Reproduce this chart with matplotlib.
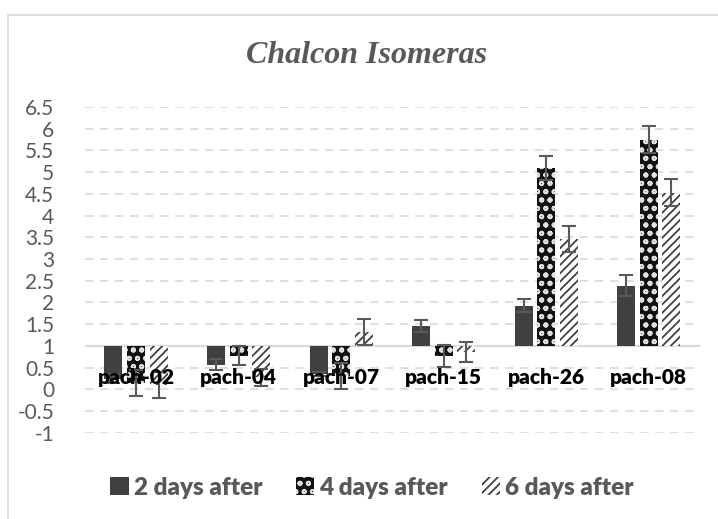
import matplotlib
matplotlib.use("Agg")
import matplotlib.pyplot as plt
from matplotlib.patches import Patch, Rectangle
from matplotlib.ticker import FuncFormatter
import numpy as np

# data (bars start at the axis crossing y = 1)
samples = ["pach-02", "pach-04", "pach-07", "pach-15", "pach-26", "pach-08"]
series = ["2 days after", "4 days after", "6 days after"]
day2 = [0.25, 0.57, 0.35, 1.45, 1.93, 2.39]
day4 = [0.15, 0.77, 0.30, 0.77, 5.10, 5.75]
day6 = [0.10, 0.28, 1.33, 0.85, 3.47, 4.53]
err2 = [0.10, 0.13, 0.05, 0.14, 0.16, 0.25]
err4 = [0.30, 0.22, 0.30, 0.25, 0.28, 0.30]
err6 = [0.30, 0.20, 0.30, 0.23, 0.30, 0.32]

GRAY = "#595959"
base = 1.0

plt.rcParams["hatch.linewidth"] = 1.3

fig = plt.figure(figsize=(7.18, 5.19), dpi=100)
ax = fig.add_axes([0.118, 0.166, 0.857, 0.628])

fig.patches.append(Rectangle((8 / 718, -0.02), 1.0, 1 - 15 / 519 + 0.02,
                             transform=fig.transFigure, fill=False,
                             edgecolor="#d9d9d9", linewidth=1.2, zorder=0))

x = np.arange(len(samples))
step = 0.22
width = 0.175

styles = [
    dict(facecolor="#404040", edgecolor="#404040", hatch=None),
    dict(facecolor="#111111", edgecolor="#e0e0e0", hatch="oo"),
    dict(facecolor="white", edgecolor="#404040", hatch="////"),
]
vals = [day2, day4, day6]
errs = [err2, err4, err6]

for i, (v, e, st) in enumerate(zip(vals, errs, styles)):
    v = np.array(v)
    xpos = x + (i - 1) * step
    ax.bar(xpos, v - base, bottom=base, width=width, linewidth=0,
           zorder=2, **st)
    ax.errorbar(xpos, v, yerr=e, fmt="none", ecolor=GRAY, elinewidth=1.5,
                capsize=5, capthick=1.5, zorder=3)

ax.set_ylim(-1, 6.5)
ax.set_xlim(-0.5, len(samples) - 0.5)
ax.set_yticks(np.arange(-1, 6.51, 0.5))
ax.yaxis.set_major_formatter(FuncFormatter(lambda v, p: "%g" % v))
ax.tick_params(axis="y", length=0, labelsize=15, labelcolor=GRAY, pad=22)
for lab in ax.get_yticklabels():
    lab.set_fontfamily("Lato")

ax.grid(axis="y", linestyle=(0, (5, 4)), color="#d9d9d9", linewidth=1.2, zorder=0)
ax.axhline(base, color="#d9d9d9", linewidth=1.5, zorder=1)

for s in ax.spines.values():
    s.set_visible(False)

ax.set_xticks(x)
ax.tick_params(axis="x", length=0)
ax.set_xticklabels([])
for xi, name in zip(x, samples):
    ax.text(xi, 0.27, name, ha="center", va="center", fontsize=15,
            fontweight="heavy", fontfamily="Lato", color="black", zorder=4)

fig.text(0.51, 0.893, "Chalcon Isomeras", ha="center", va="center",
         fontsize=23, fontstyle="italic", fontweight="bold",
         fontfamily="Liberation Serif", color=GRAY)

handles = [Patch(label=n, **st, linewidth=0) for n, st in zip(series, styles)]
leg = fig.legend(handles=handles, loc="center", bbox_to_anchor=(0.518, 0.06),
                 ncol=3, frameon=False, handlelength=0.75, handleheight=0.75,
                 handletextpad=0.2, columnspacing=1.4,
                 prop=dict(family="Lato", weight="heavy", size=17.5))
for t in leg.get_texts():
    t.set_color(GRAY)

fig.savefig("out.png", dpi=100)
